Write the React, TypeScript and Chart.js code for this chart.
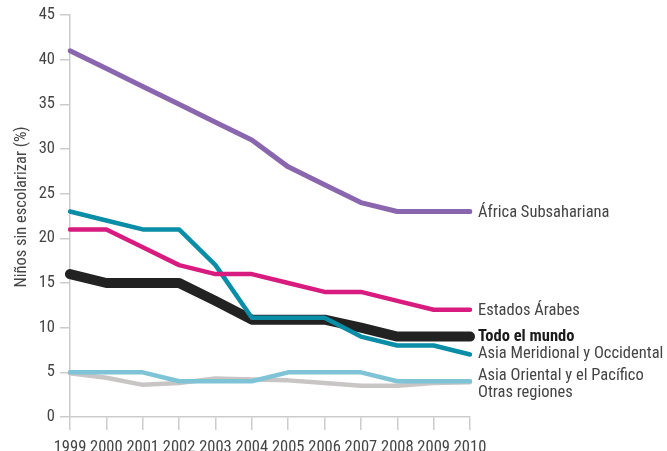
import React, { useEffect, useRef } from "react";
import { Chart, registerables } from "chart.js";

Chart.register(...registerables);

const years = ["1999", "2000", "2001", "2002", "2003", "2004", "2005", "2006", "2007", "2008", "2009", "2010"];
const yTicks = [0, 5, 10, 15, 20, 25, 30, 35, 40, 45];
const yTitle = "Niños sin escolarizar (%)";

const africaSub = [41, 39, 37, 35, 33, 31, 28, 26, 24, 23, 23, 23];
const estadosArabes = [21, 21, 19, 17, 16, 16, 15, 14, 14, 13, 12, 12];
const todoMundo = [16, 15, 15, 15, 13, 10.9, 10.9, 10.9, 10, 9, 9, 9];
const asiaMeridional = [23, 22, 21, 21, 17, 11.1, 11.1, 11.1, 9, 8, 8, 7];
const asiaOriental = [5, 5, 5, 4, 4, 4, 5, 5, 5, 4, 4, 4];
const otrasRegiones = [4.9, 4.4, 3.6, 3.8, 4.3, 4.2, 4.1, 3.8, 3.5, 3.5, 3.8, 3.9];

const seriesNames = [
  "África Subsahariana",
  "Estados Árabes",
  "Todo el mundo",
  "Asia Meridional y Occidental",
  "Asia Oriental y el Pacífico",
  "Otras regiones",
];
const seriesData = [africaSub, estadosArabes, todoMundo, asiaMeridional, asiaOriental, otrasRegiones];
const seriesColors = ["#8A66AE", "#D81B7F", "#222222", "#0A8DA6", "#7FC4D6", "#C9C5C5"];
const seriesWidths = [5, 4.5, 10, 4.5, 4.5, 4.5];
const seriesOrder = [1, 2, 4, 3, 5, 6];
const labelShift = [1, 1.5, 0.5, -0.5, -5.5, 10.5];
const labelBold = [false, false, true, false, false, false];

const FONT = "Roboto, sans-serif";

function condense(ctx: any) {
  const desc = Object.getOwnPropertyDescriptor(CanvasRenderingContext2D.prototype, "font");
  if (!desc || !desc.set || !desc.get) return;
  Object.defineProperty(ctx, "font", {
    configurable: true,
    get() { return desc.get!.call(this); },
    set(v: string) { desc.set!.call(this, v); this.fontStretch = "condensed"; },
  });
}

const endLabels = {
  id: "endLabels",
  afterDatasetsDraw(chart: any) {
    const ctx = chart.ctx;
    const xs = chart.scales.x;
    const ys = chart.scales.y;
    ctx.save();
    ctx.textBaseline = "middle";
    ctx.textAlign = "left";
    seriesNames.forEach((name, i) => {
      const d = seriesData[i];
      const x = xs.getPixelForValue(d.length - 1) + 8;
      const y = ys.getPixelForValue(d[d.length - 1]) + labelShift[i];
      ctx.font = (labelBold[i] ? "bold " : "") + "16.5px " + FONT;
      ctx.fillStyle = labelBold[i] ? "#1a1a1a" : "#444444";
      ctx.fillText(name, x, y);
    });
    // y-axis title
    const ca = chart.chartArea;
    ctx.translate(22, (ca.top + ca.bottom) / 2 - 9);
    ctx.rotate(-Math.PI / 2);
    ctx.textAlign = "center";
    ctx.font = "16.5px " + FONT;
    ctx.fillStyle = "#444444";
    ctx.fillText(yTitle, 0, 0);
    ctx.restore();
  },
};

export default function App() {
  const ref = useRef<HTMLCanvasElement | null>(null);
  useEffect(() => {
    document.body.style.margin = "0";
    const canvas = ref.current as HTMLCanvasElement;
    condense(canvas.getContext("2d"));
    const chart = new Chart(canvas, {
      type: "line",
      data: {
        labels: years,
        datasets: seriesNames.map((n, i) => ({
          label: n,
          data: seriesData[i],
          borderColor: seriesColors[i],
          backgroundColor: seriesColors[i],
          borderWidth: seriesWidths[i],
          pointRadius: 0,
          tension: 0,
          fill: false,
          order: seriesOrder[i],
          borderCapStyle: "round" as const,
          borderJoinStyle: "round" as const,
        })),
      },
      options: {
        animation: false,
        responsive: false,
        maintainAspectRatio: false,
        layout: { padding: { left: 0, right: 197, top: 15, bottom: 0 } },
        plugins: { legend: { display: false }, tooltip: { enabled: false } },
        scales: {
          x: {
            type: "category",
            offset: false,
            grid: { drawOnChartArea: false, drawTicks: true, tickLength: 13, color: "#cccccc", lineWidth: 1.5 },
            border: { display: true, color: "#cccccc", width: 1.5 },
            ticks: { color: "#444444", font: { family: FONT, size: 16.5 }, padding: 8, maxRotation: 0, autoSkip: false },
            afterFit(s: any) { s.height = 34; },
          },
          y: {
            min: 0,
            max: 45,
            afterBuildTicks(s: any) { s.ticks = yTicks.map((v) => ({ value: v })); },
            grid: { drawOnChartArea: false, drawTicks: true, tickLength: 10, color: "#cccccc", lineWidth: 1.5 },
            border: { display: true, color: "#cccccc", width: 1.5 },
            ticks: { color: "#444444", font: { family: FONT, size: 16.5 }, padding: 5 },
            title: { display: false },
            afterFit(s: any) { s.width = 70; },
          },
        },
      },
      plugins: [endLabels],
    } as any);
    return () => chart.destroy();
  }, []);
  return (
    <div style={{ width: 667, height: 451, position: "relative" }}>
      <canvas ref={ref} width={667} height={451} style={{ display: "block", width: 667, height: 451 }} />
    </div>
  );
}
